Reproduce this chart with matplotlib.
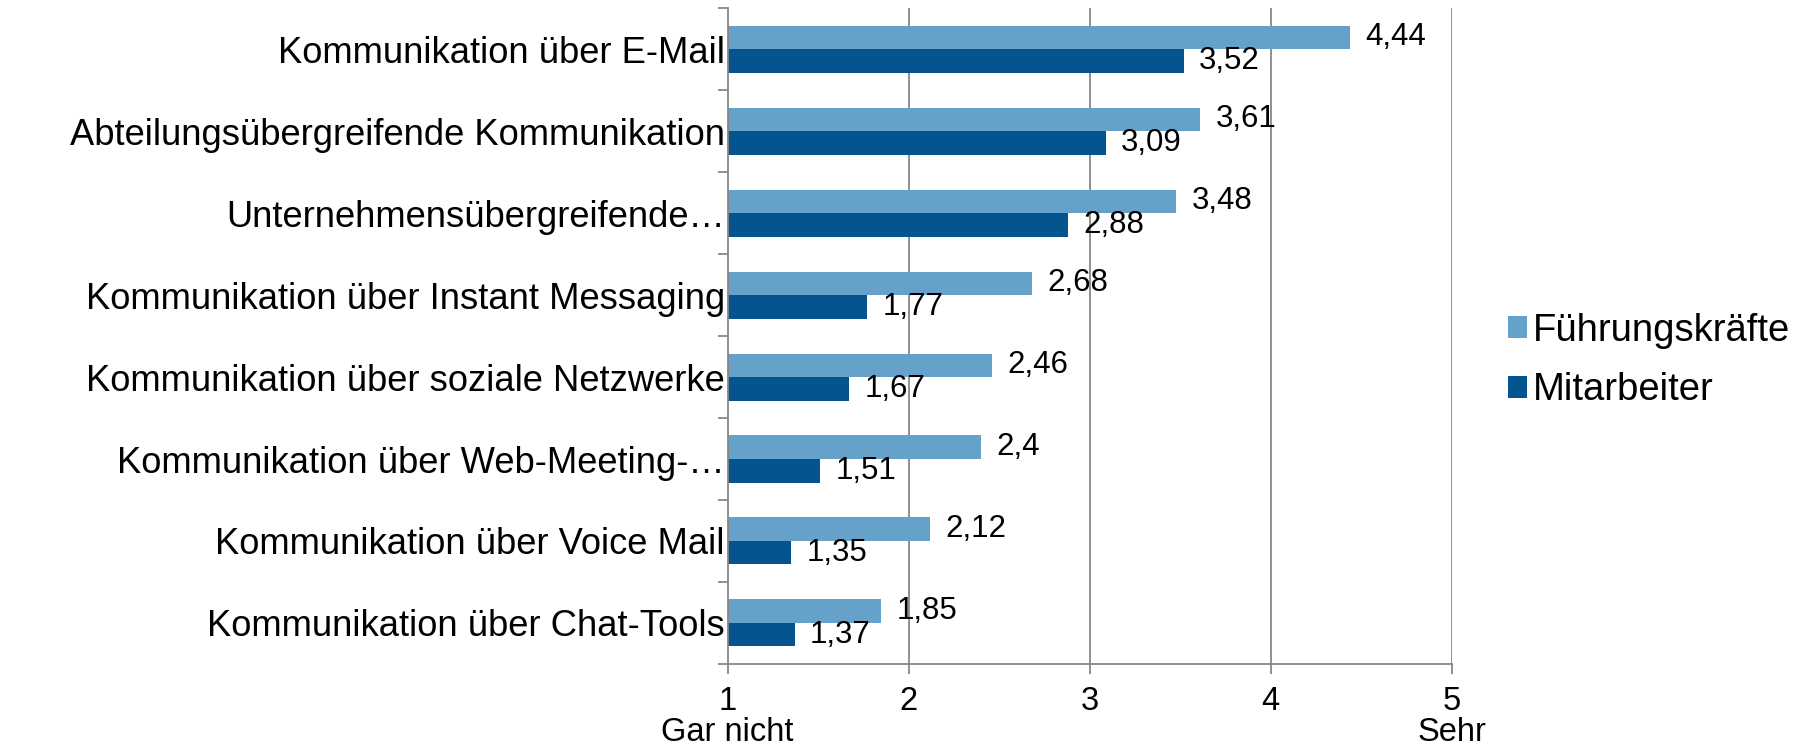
import numpy as np
import matplotlib
matplotlib.use("Agg")
import matplotlib.pyplot as plt

plt.rcParams['font.family'] = ['Liberation Sans', 'DejaVu Sans']

categories = [
    "Kommunikation über E-Mail",
    "Abteilungsübergreifende Kommunikation",
    "Unternehmensübergreifende…",
    "Kommunikation über Instant Messaging",
    "Kommunikation über soziale Netzwerke",
    "Kommunikation über Web-Meeting-…",
    "Kommunikation über Voice Mail",
    "Kommunikation über Chat-Tools",
]
fuehrung = [4.44, 3.61, 3.48, 2.68, 2.46, 2.4, 2.12, 1.85]
mitarbeiter = [3.52, 3.09, 2.88, 1.77, 1.67, 1.51, 1.35, 1.37]
x_ticks = [1, 2, 3, 4, 5]
x_ticklabels = ["1\nGar nicht", "2", "3", "4", "5\nSehr"]

light = "#66A1C9"
dark = "#03548F"
grey = "#878787"

fig = plt.figure(figsize=(18.01, 7.51), dpi=100)
ax = fig.add_axes([0.404, 0.116, 0.402, 0.873])

y = np.arange(len(categories))
h = 0.287

b1 = ax.barh(y - h / 2, np.array(fuehrung) - 1, left=1, height=h,
             color=light, label="Führungskräfte")
b2 = ax.barh(y + h / 2, np.array(mitarbeiter) - 1, left=1, height=h,
             color=dark, label="Mitarbeiter")

for yy, v in zip(y - h / 2, fuehrung):
    ax.annotate(str(v).replace(".", ","), (v, yy), xytext=(11, 0),
                textcoords="offset points", va="center", ha="left", fontsize=22.5)
for yy, v in zip(y + h / 2, mitarbeiter):
    ax.annotate(str(v).replace(".", ","), (v, yy), xytext=(11, 0),
                textcoords="offset points", va="center", ha="left", fontsize=22.5)

ax.set_xlim(1, 5)
ax.set_ylim(len(categories) - 0.5, -0.5)

# vertical gridlines
for gx in x_ticks[1:]:
    ax.axvline(gx, color=grey, lw=1.3, zorder=0)

ax.set_xticks(x_ticks)
ax.set_xticklabels(x_ticklabels, fontsize=23.5, linespacing=1.0)
ax.tick_params(axis="x", length=7, width=1.3, color=grey, pad=9)

# y ticks at category boundaries, labels at centres
ax.set_yticks(np.arange(len(categories) + 1) - 0.5)
ax.set_yticklabels([])
ax.set_yticks(y, minor=True)
ax.set_yticklabels(categories, minor=True, fontsize=26.2)
ax.tick_params(axis="y", which="major", length=7, width=1.3, color=grey)
ax.tick_params(axis="y", which="minor", length=0, pad=2)

for s in ["top", "right"]:
    ax.spines[s].set_visible(False)
for s in ["left", "bottom"]:
    ax.spines[s].set_color(grey)
    ax.spines[s].set_linewidth(1.3)

fig.legend(handles=[b1, b2], loc="center left", bbox_to_anchor=(0.818, 0.52),
           frameon=False, fontsize=27.5, handlelength=0.5, handleheight=0.5,
           handletextpad=0.15, labelspacing=0.62)

plt.savefig("out.png", dpi=100)
